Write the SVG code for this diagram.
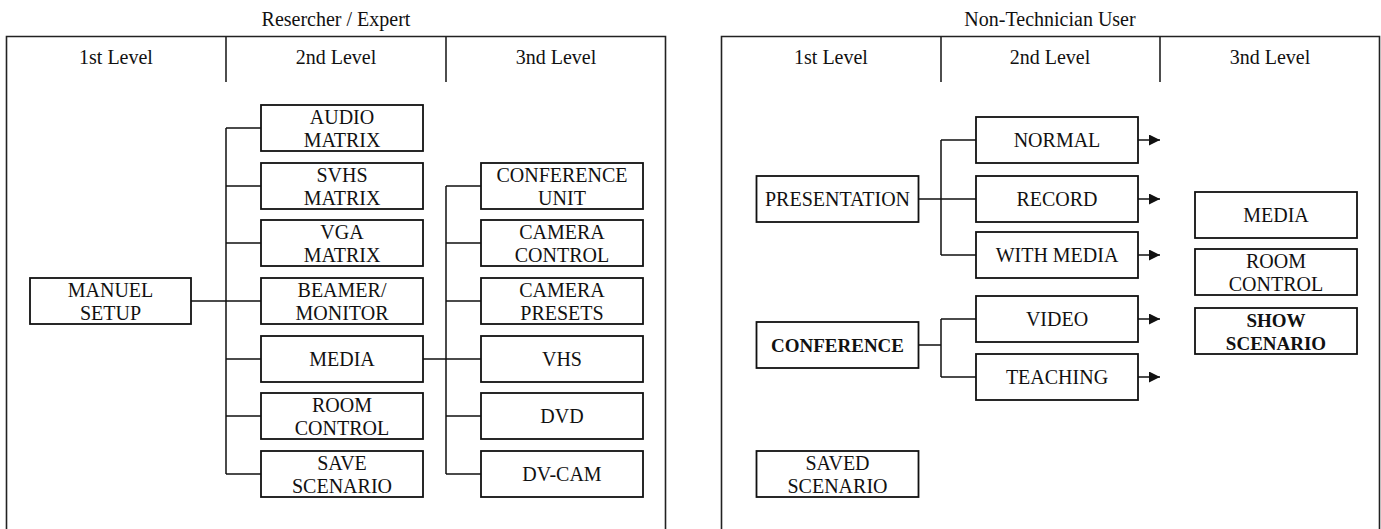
<svg xmlns="http://www.w3.org/2000/svg" width="1381" height="529" viewBox="0 0 1381 529" font-family="'Liberation Serif', 'Times New Roman', 'DejaVu Serif', serif">
<style>
text{font-family:'Liberation Serif','Times New Roman','DejaVu Serif',serif;font-size:20px;fill:#111;text-anchor:middle}
.b{font-weight:bold;font-size:19px}
.box{fill:#fff;stroke:#111;stroke-width:1.8}
.panel{fill:none;stroke:#222;stroke-width:1.6}
.ln{fill:none;stroke:#111;stroke-width:1.5}
</style>
<defs>
<marker id="ah" viewBox="0 0 10 10" refX="10" refY="5" markerWidth="11" markerHeight="11" markerUnits="userSpaceOnUse" orient="auto">
<path d="M0,0 L10,5 L0,10 z" fill="#111"/>
</marker>
</defs>
<rect width="1381" height="529" fill="#fff"/>

<g id="panel-left">
<text x="336" y="26">Resercher / Expert</text>
<path class="panel" d="M6.5,532 V36.5 H665.5 V532"/>
<path class="panel" d="M226,36.5 V82 M446,36.5 V82"/>
<text x="116" y="64">1st Level</text>
<text x="336" y="64">2nd Level</text>
<text x="556" y="64">3nd Level</text>
</g>
<g id="panel-right">
<text x="1050" y="26">Non-Technician User</text>
<path class="panel" d="M721.5,532 V36.5 H1379.5 V532"/>
<path class="panel" d="M941,36.5 V82 M1160,36.5 V82"/>
<text x="831" y="64">1st Level</text>
<text x="1050" y="64">2nd Level</text>
<text x="1270" y="64">3nd Level</text>
</g>

<g id="connectors">
<path class="ln" d="M191,301 H261 M226,128 V474 M226,128 H261 M226,186 H261 M226,243 H261 M226,359 H261 M226,416 H261 M226,474 H261"/>
<path class="ln" d="M423,359 H481 M446,186 V474 M446,186 H481 M446,243 H481 M446,301 H481 M446,416 H481 M446,474 H481"/>
<path class="ln" d="M918,199 H976 M941,140 V255 M941,140 H976 M941,255 H976"/>
<path class="ln" d="M918,345 H941 M941,319 V377 M941,319 H976 M941,377 H976"/>
<path class="ln" marker-end="url(#ah)" d="M1138,140 H1160"/>
<path class="ln" marker-end="url(#ah)" d="M1138,199 H1160"/>
<path class="ln" marker-end="url(#ah)" d="M1138,255 H1160"/>
<path class="ln" marker-end="url(#ah)" d="M1138,319 H1160"/>
<path class="ln" marker-end="url(#ah)" d="M1138,377 H1160"/>
</g>

<g id="manuel-setup"><rect class="box" x="30" y="278" width="161" height="46"/><text x="110.5" y="297">MANUEL</text><text x="110.5" y="320">SETUP</text></g>

<g id="audio-matrix"><rect class="box" x="261" y="105" width="162" height="46"/><text x="342" y="124">AUDIO</text><text x="342" y="147">MATRIX</text></g>
<g id="svhs-matrix"><rect class="box" x="261" y="163" width="162" height="46"/><text x="342" y="182">SVHS</text><text x="342" y="205">MATRIX</text></g>
<g id="vga-matrix"><rect class="box" x="261" y="220" width="162" height="46"/><text x="342" y="239">VGA</text><text x="342" y="262">MATRIX</text></g>
<g id="beamer-monitor"><rect class="box" x="261" y="278" width="162" height="46"/><text x="342" y="297">BEAMER/</text><text x="342" y="320">MONITOR</text></g>
<g id="media-l"><rect class="box" x="261" y="336" width="162" height="46"/><text x="342" y="366">MEDIA</text></g>
<g id="room-control-l"><rect class="box" x="261" y="393" width="162" height="46"/><text x="342" y="412">ROOM</text><text x="342" y="435">CONTROL</text></g>
<g id="save-scenario"><rect class="box" x="261" y="451" width="162" height="46"/><text x="342" y="470">SAVE</text><text x="342" y="493">SCENARIO</text></g>

<g id="conference-unit"><rect class="box" x="481" y="163" width="162" height="46"/><text x="562" y="182">CONFERENCE</text><text x="562" y="205">UNIT</text></g>
<g id="camera-control"><rect class="box" x="481" y="220" width="162" height="46"/><text x="562" y="239">CAMERA</text><text x="562" y="262">CONTROL</text></g>
<g id="camera-presets"><rect class="box" x="481" y="278" width="162" height="46"/><text x="562" y="297">CAMERA</text><text x="562" y="320">PRESETS</text></g>
<g id="vhs"><rect class="box" x="481" y="336" width="162" height="46"/><text x="562" y="366">VHS</text></g>
<g id="dvd"><rect class="box" x="481" y="393" width="162" height="46"/><text x="562" y="423">DVD</text></g>
<g id="dv-cam"><rect class="box" x="481" y="451" width="162" height="46"/><text x="562" y="481">DV-CAM</text></g>

<g id="presentation"><rect class="box" x="756.5" y="176" width="162" height="46"/><text x="837.5" y="206">PRESENTATION</text></g>
<g id="conference"><rect class="box" x="756.5" y="322" width="162" height="46"/><text class="b" x="837.5" y="352">CONFERENCE</text></g>
<g id="saved-scenario"><rect class="box" x="756.5" y="451" width="162" height="46"/><text x="837.5" y="470">SAVED</text><text x="837.5" y="493">SCENARIO</text></g>

<g id="normal"><rect class="box" x="976" y="117" width="162" height="46"/><text x="1057" y="147">NORMAL</text></g>
<g id="record"><rect class="box" x="976" y="176" width="162" height="46"/><text x="1057" y="206">RECORD</text></g>
<g id="with-media"><rect class="box" x="976" y="232" width="162" height="46"/><text x="1057" y="262">WITH MEDIA</text></g>
<g id="video"><rect class="box" x="976" y="296" width="162" height="46"/><text x="1057" y="326">VIDEO</text></g>
<g id="teaching"><rect class="box" x="976" y="354" width="162" height="46"/><text x="1057" y="384">TEACHING</text></g>

<g id="media-r"><rect class="box" x="1195" y="192" width="162" height="46"/><text x="1276" y="222">MEDIA</text></g>
<g id="room-control-r"><rect class="box" x="1195" y="249" width="162" height="46"/><text x="1276" y="268">ROOM</text><text x="1276" y="291">CONTROL</text></g>
<g id="show-scenario"><rect class="box" x="1195" y="308" width="162" height="46"/><text class="b" x="1276" y="327">SHOW</text><text class="b" x="1276" y="350">SCENARIO</text></g>
</svg>
